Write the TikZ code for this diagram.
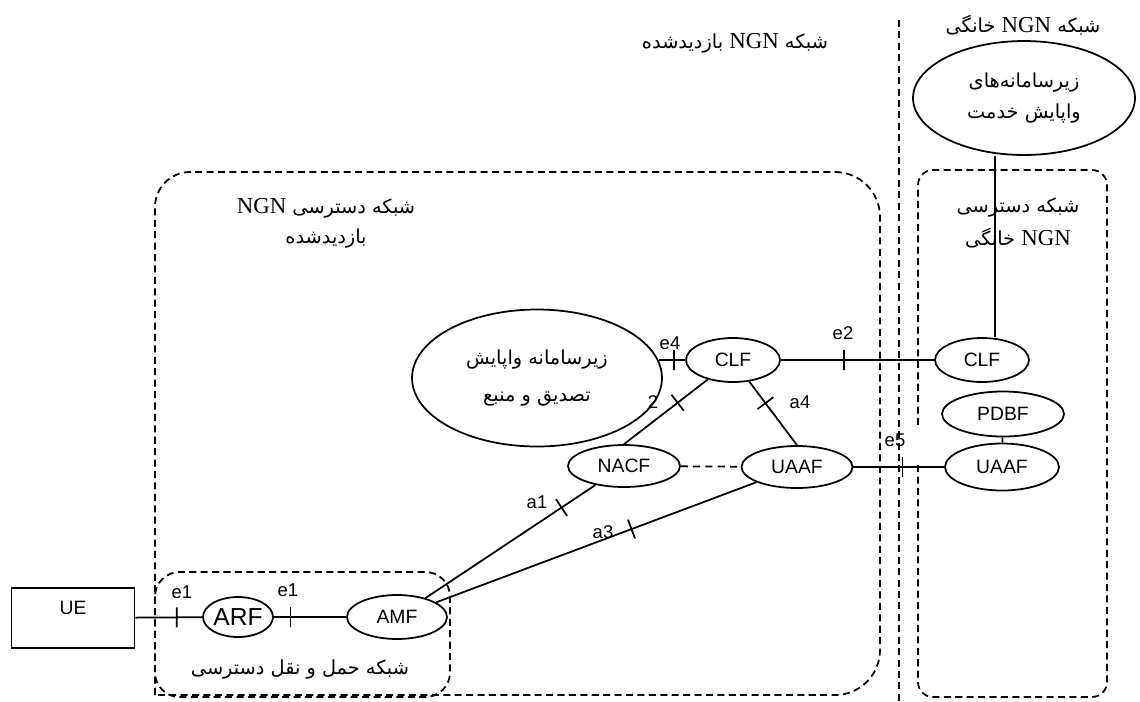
\documentclass[tikz,border=0pt]{standalone}
\usepackage{fontspec}
\setmainfont{Liberation Serif}
\newfontfamily\persianfont[Script=Arabic]{DejaVu Sans}
\newfontfamily\labelfont{Liberation Sans}
\newfontfamily\ngnfont{Liberation Serif}
\TeXXeTstate=1
\usetikzlibrary{shapes.geometric}

\newcommand{\ngn}{\beginL{\ngnfont\fontsize{13}{15}\selectfont NGN}\endL}

\begin{document}
\begin{tikzpicture}[x=0.02cm, y=-0.02cm,
  fn/.style={ellipse, draw, line width=1pt, inner sep=0pt, font=\labelfont\fontsize{11}{13}\selectfont},
  sub/.style={ellipse, draw, line width=1pt, inner sep=0pt},
  link/.style={line width=1pt},
  tickmark/.style={draw, sloped, line width=1pt, inner sep=0pt, minimum width=0pt, minimum height=0.4cm},
  iface/.style={font=\labelfont\fontsize{10.5}{12}\selectfont, inner sep=0pt},
  area/.style={line width=1pt, dash pattern=on 4pt off 2.5pt},
  fa/.style={font=\persianfont\fontsize{11}{#1}\selectfont, align=center, inner sep=0pt},
  fa/.default=15pt]
\useasboundingbox (0,0) rectangle (1140,701);

% network borders
\draw[area] (899,20) -- (899,701);
\draw[area] (155,695) -- (155,207) arc[start angle=180, end angle=270, radius=35] -- (835,172) arc[start angle=270, end angle=360, radius=45] -- (880,650) arc[start angle=0, end angle=90, radius=45] -- cycle;
\draw[area] (918,425) -- (918,185) arc[start angle=180, end angle=270, radius=15] -- (1092,170) arc[start angle=270, end angle=360, radius=15] -- (1107,682) arc[start angle=0, end angle=90, radius=15] -- (933,697) arc[start angle=90, end angle=180, radius=15] -- (918,465);
\draw[area, rounded corners=14pt] (155,572) rectangle (450,697);

\node[fa] (visited) at (735,43) {\beginR شبکه \ngn{} بازدیدشده\endR};
\node[fa] (home) at (1023,25) {\beginR شبکه \ngn{} خانگی\endR};
\node[fa=17pt] (vaccess) at (326,223) {\beginR شبکه دسترسی \ngn\endR\\\beginR بازدیدشده\endR};
\node[fa=19pt] (haccess) at (1018,223) {\beginR شبکه دسترسی\endR\\\beginR \ngn{} خانگی\endR};
\node[fa] (transport) at (300,670) {\beginR شبکه حمل و نقل دسترسی\endR};

% functional entities
\node[draw, line width=1pt, minimum width=2.46cm, minimum height=1.2cm, text depth=12pt, font=\labelfont\fontsize{11}{13}\selectfont] (ue) at (73,618) {UE};
\node[fn, minimum width=1.4cm, minimum height=0.8cm, font=\labelfont\fontsize{14}{16}\selectfont] (arf) at (238,617) {ARF};
\node[fn, minimum width=2cm, minimum height=0.88cm] (amf) at (397,617) {AMF};
\node[fn, minimum width=2.24cm, minimum height=0.84cm] (nacf) at (624,466) {NACF};
\node[fn, minimum width=2.22cm, minimum height=0.84cm] (uaaf) at (797,467) {UAAF};
\node[fn, minimum width=1.88cm, minimum height=0.88cm] (clf) at (733,360) {CLF};
\node[fn, minimum width=1.88cm, minimum height=0.88cm] (hclf) at (982,360) {CLF};
\node[fn, minimum width=2.44cm, minimum height=0.9cm] (pdbf) at (1003,414) {PDBF};
\node[fn, minimum width=2.28cm, minimum height=0.94cm] (huaaf) at (1002,467) {UAAF};
\node[sub, fa=21pt, minimum width=5cm, minimum height=2.74cm] (racs) at (537,378) {\beginR زیرسامانه واپایش\endR\\\beginR تصدیق و منبع\endR};
\node[sub, fa=18pt, minimum width=4.44cm, minimum height=2.28cm] (scs) at (1024,98) {\beginR زیرسامانه‌های\endR\\\beginR واپایش خدمت\endR};

% reference points
\coordinate (drop) at (995,0);
\draw[link] (ue) -- (arf) node[tickmark, pos=0.62] (t1) {};
\draw[link] (arf) -- (amf) node[tickmark, pos=0.23] (t2) {};
\draw[link] (amf) -- (nacf) node[tickmark, pos=0.8] (t3) {};
\draw[link] (amf) -- (uaaf) node[tickmark, pos=0.61] (t4) {};
\draw[link] (clf) -- (nacf.north) node[tickmark, pos=0.36] (t5) {};
\draw[link] (clf) -- (uaaf.north) node[tickmark, pos=0.34] (t6) {};
\draw[link, shorten >=-2pt] (clf.west) -- (clf.west -| racs.east) node[tickmark, pos=0.5] (t7) {};
\draw[link] (clf) -- (hclf) node[tickmark, pos=0.41] (t8) {};
\draw[link] (uaaf) -- (huaaf) node[tickmark, pos=0.54] (t9) {};
\draw[link, dash pattern=on 4pt off 3pt] (nacf) -- (uaaf);
\draw[link] (pdbf) -- (huaaf);
\draw[link] (drop |- scs.south) -- (drop |- hclf.north);

\node[iface] (le1a) at (182,592) {e1};
\node[iface] (le1b) at (288,590) {e1};
\node[iface] (la1) at (537,502) {a1};
\node[iface] (la3) at (603,532) {a3};
\node[iface] (la2) at (653,402) {2};
\node[iface] (la4) at (800,402) {a4};
\node[iface] (le4) at (670,343) {e4};
\node[iface] (le2) at (843,333) {e2};
\node[iface] (le5) at (895,440) {e5};
\end{tikzpicture}
\end{document}
